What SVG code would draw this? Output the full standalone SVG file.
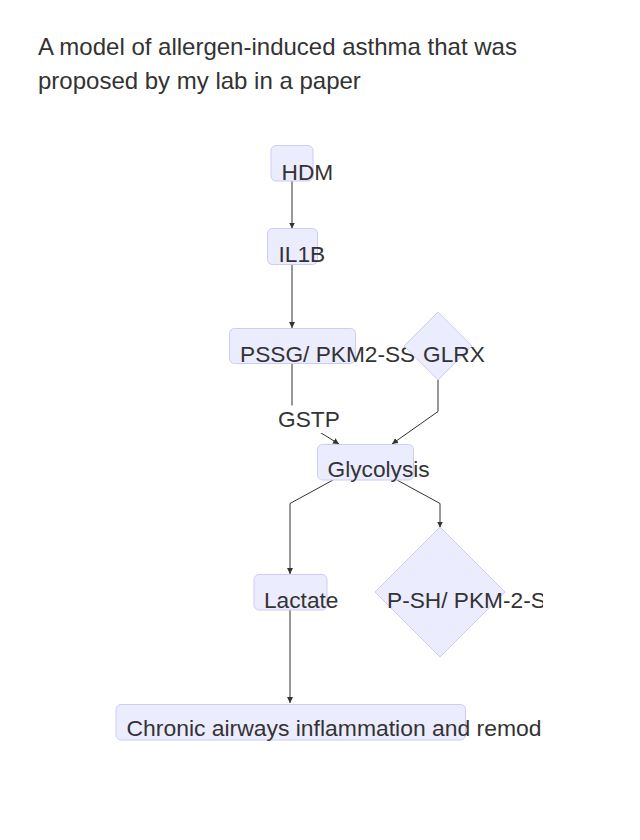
<svg xmlns="http://www.w3.org/2000/svg" width="640" height="840" viewBox="0 0 640 840">
<style>
.title{font-family:"Liberation Sans",Arial,sans-serif;font-size:24px;fill:#333}
.lbl{font-family:"Liberation Sans",Arial,sans-serif;font-size:22.7px;fill:#333}
.box{fill:#ECECFF;stroke:#ccccf5;stroke-width:1}
.edge{fill:none;stroke:#333;stroke-width:1}
</style>
<defs>
<marker id="arr" viewBox="0 0 10 10" refX="10" refY="5" markerWidth="6" markerHeight="6" markerUnits="userSpaceOnUse" orient="auto">
<path d="M0,0 L10,5 L0,10 z" fill="#333"/>
</marker>
<clipPath id="clip"><rect x="0" y="0" width="543" height="840"/></clipPath>
</defs>
<rect width="640" height="840" fill="#fff"/>
<g id="title">
<text class="title" x="38" y="55">A model of allergen-induced asthma that was</text>
<text class="title" x="38" y="89">proposed by my lab in a paper</text>
</g>
<g id="edges">
<path class="edge" d="M292,181 L292,228.5" marker-end="url(#arr)"/>
<path class="edge" d="M292,264.5 L292,328" marker-end="url(#arr)"/>
<path class="edge" d="M292,364 L292,415 L339,444" marker-end="url(#arr)"/>
<path class="edge" d="M438,380 L438,411.5 L392,444" marker-end="url(#arr)"/>
<path class="edge" d="M333,480 L290,503.5 L290,574" marker-end="url(#arr)"/>
<path class="edge" d="M397,480 L440,503.5 L440,527.5" marker-end="url(#arr)"/>
<path class="edge" d="M290,610 L290,703" marker-end="url(#arr)"/>
</g>
<g id="edge-label-GSTP">
<rect x="277" y="405.5" width="62" height="27.5" fill="#fff"/>
<text class="lbl" x="278" y="427">GSTP</text>
</g>
<g id="node-HDM">
<rect class="box" x="271" y="145.5" width="42" height="35.5" rx="5"/>
<text class="lbl" x="281.5" y="179.5">HDM</text>
</g>
<g id="node-IL1B">
<rect class="box" x="267.5" y="228.5" width="50" height="36" rx="5"/>
<text class="lbl" x="278.5" y="262">IL1B</text>
</g>
<g id="node-PSSG">
<rect class="box" x="229.5" y="328.5" width="126" height="35" rx="5"/>
<text class="lbl" x="240" y="362">PSSG/ PKM2-SS</text>
</g>
<g id="node-GLRX">
<polygon class="box" points="438,312 472,346 438,380 404,346"/>
<text class="lbl" x="423" y="362">GLRX</text>
</g>
<g id="node-Glycolysis">
<rect class="box" x="317.5" y="444.5" width="96" height="35.5" rx="5"/>
<text class="lbl" x="327.5" y="476.5">Glycolysis</text>
</g>
<g id="node-Lactate">
<rect class="box" x="254" y="574.5" width="73" height="35.5" rx="5"/>
<text class="lbl" x="264" y="608">Lactate</text>
</g>
<g id="node-PSH" clip-path="url(#clip)">
<polygon class="box" points="440,527 505,592 440,657 375,592"/>
<text class="lbl" x="387" y="608">P-SH/ PKM-2-S</text>
</g>
<g id="node-Chronic" clip-path="url(#clip)">
<rect class="box" x="116" y="704.5" width="349.5" height="35.5" rx="5"/>
<text class="lbl" x="126.5" y="736" textLength="415" lengthAdjust="spacingAndGlyphs">Chronic airways inflammation and remod</text>
</g>
</svg>
